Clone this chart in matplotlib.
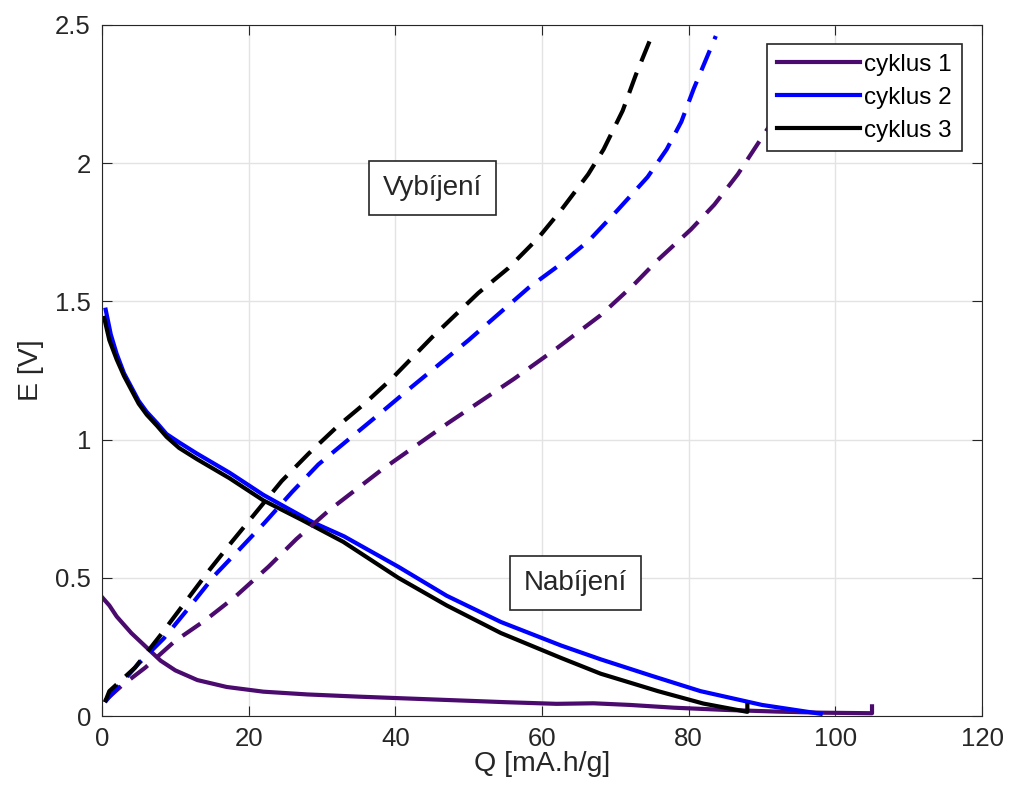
import numpy as np
import matplotlib.pyplot as plt

plt.rcParams['font.family'] = ['Liberation Sans', 'DejaVu Sans']

# cyklus 1 - discharge (solid) and charge (dashed)
q1_dis = [0, 1, 2, 4, 6, 8, 10, 13, 17, 22, 28, 35, 45, 55, 62, 67, 72, 78, 85, 92, 98, 105, 105]
e1_dis = [0.43, 0.40, 0.36, 0.30, 0.25, 0.20, 0.165, 0.13, 0.105, 0.088, 0.078, 0.070, 0.060, 0.050, 0.044, 0.046, 0.040, 0.030, 0.022, 0.016, 0.012, 0.010, 0.035]
q1_ch = [0.4, 2.7, 5.9, 9.9, 14, 18.1, 22.7, 26.5, 31, 38.1, 47.2, 56.2, 62, 68, 72.5, 75.8, 80.3, 83.5, 86.7, 90.9, 93.5, 96]
e1_ch = [0.055, 0.11, 0.175, 0.27, 0.345, 0.43, 0.54, 0.64, 0.745, 0.89, 1.06, 1.22, 1.33, 1.45, 1.56, 1.65, 1.76, 1.85, 1.96, 2.13, 2.28, 2.45]

# cyklus 2
q2_dis = [0.5, 1.2, 2, 3, 3.8, 5, 6.1, 7.5, 8.8, 10.5, 12.9, 17.4, 22, 28.8, 33, 40.4, 47, 54.4, 62.6, 68, 75, 81.6, 90, 98]
e2_dis = [1.47, 1.38, 1.31, 1.24, 1.20, 1.14, 1.10, 1.06, 1.02, 0.99, 0.95, 0.88, 0.80, 0.70, 0.65, 0.54, 0.435, 0.34, 0.255, 0.205, 0.145, 0.09, 0.04, 0.008]
q2_ch = [0.4, 1, 5, 8.4, 11.8, 15.4, 19, 22.2, 25.9, 29.5, 33.6, 37.7, 42.2, 50, 58.2, 62.3, 66.4, 70.3, 74.4, 77, 79, 80.7, 83.7]
e2_ch = [0.05, 0.07, 0.19, 0.28, 0.39, 0.51, 0.61, 0.70, 0.81, 0.91, 1.0, 1.09, 1.19, 1.36, 1.55, 1.63, 1.72, 1.83, 1.95, 2.05, 2.15, 2.27, 2.46]

# cyklus 3
q3_dis = [0.3, 1, 2, 3, 3.8, 5, 6.1, 7.5, 8.8, 10.5, 12.9, 17.4, 22, 27.2, 32.9, 40.4, 47, 54.4, 62.6, 68, 75.8, 82, 88, 88]
e3_dis = [1.44, 1.36, 1.29, 1.23, 1.19, 1.13, 1.09, 1.05, 1.01, 0.97, 0.93, 0.86, 0.78, 0.71, 0.63, 0.50, 0.40, 0.30, 0.21, 0.153, 0.09, 0.045, 0.015, 0.04]
q3_ch = [0.4, 1, 4.5, 7.9, 11.3, 14.7, 17.7, 21.1, 24.5, 28.2, 32.2, 35.8, 39.5, 45, 51.3, 55.4, 59.5, 62.6, 66.3, 68.4, 71, 72.8, 74.8]
e3_ch = [0.05, 0.09, 0.175, 0.29, 0.41, 0.53, 0.63, 0.74, 0.85, 0.95, 1.05, 1.13, 1.22, 1.37, 1.53, 1.62, 1.73, 1.83, 1.96, 2.05, 2.19, 2.32, 2.45]

purple = '#4b0a6e'
lw = 3.0
dash = (5.2, 2.9)
ink = '#262626'

fig = plt.figure(figsize=(10.1, 8), dpi=100)
ax = fig.add_axes([0.101, 0.105, 0.8713, 0.8638])

ax.plot(q1_dis, e1_dis, color=purple, lw=lw, label='cyklus 1')
ax.plot(q2_dis, e2_dis, color='#0000ff', lw=lw, label='cyklus 2')
ax.plot(q3_dis, e3_dis, color='black', lw=lw, label='cyklus 3')
ax.plot(q1_ch, e1_ch, color=purple, lw=lw, dashes=dash)
ax.plot(q2_ch, e2_ch, color='#0000ff', lw=lw, dashes=dash)
ax.plot(q3_ch, e3_ch, color='black', lw=lw, dashes=dash)

ax.set_xlim(0, 120)
ax.set_ylim(0, 2.5)
ax.set_xticks(np.arange(0, 121, 20))
ax.set_yticks([0, 0.5, 1, 1.5, 2, 2.5])
ax.set_yticklabels(['0', '0.5', '1', '1.5', '2', '2.5'])
ax.grid(True, color='#e3e3e3', lw=1)
ax.set_axisbelow(True)
ax.tick_params(direction='in', top=True, right=True, labelsize=18.5, colors=ink, length=7, pad=8)
for s in ax.spines.values():
    s.set_color(ink)
ax.set_xlabel('Q [mA.h/g]', fontsize=20.5, color=ink, labelpad=0)
ax.set_ylabel('E [V]', fontsize=20.5, color=ink, labelpad=8)

box = dict(boxstyle='square,pad=0.5', fc='white', ec=ink, lw=1.2)
ax.text(45.1, 1.91, 'Vybíjení', fontsize=20, ha='center', va='center', bbox=box, color=ink)
ax.text(64.6, 0.48, 'Nabíjení', fontsize=20, ha='center', va='center', bbox=box, color=ink)

leg = ax.legend(loc='upper right', fontsize=17.5, fancybox=False, framealpha=1,
                edgecolor=ink, handlelength=3.4, borderpad=0.4, labelspacing=0.45,
                handletextpad=0.2, borderaxespad=0, bbox_to_anchor=(0.977, 0.9725))
leg.get_frame().set_linewidth(1.2)

fig.savefig('out.png', dpi=100)
